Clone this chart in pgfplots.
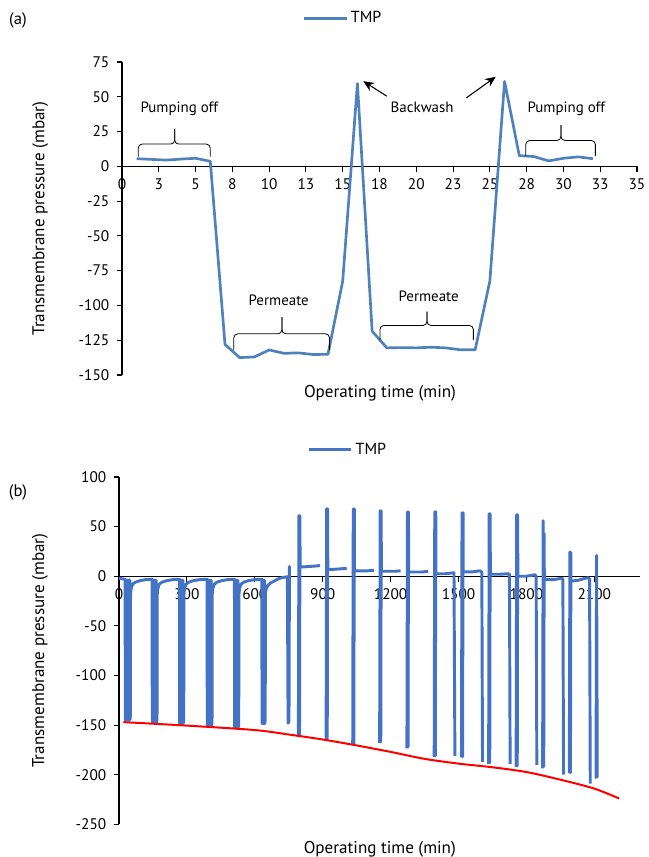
\documentclass[border=0pt]{standalone}
\usepackage{fontspec}
\setmainfont{PT Sans}
\usepackage{pgfplots}
\pgfplotsset{compat=1.18}
\usetikzlibrary{arrows.meta}
\definecolor{tmpA}{HTML}{4F81BD}
\definecolor{tmpB}{HTML}{4472C4}
\tikzset{brk/.style={line width=0.6pt, rounded corners=3pt}}
\begin{document}
\begin{tikzpicture}
\pgfplotsset{
 common/.style={
  scale only axis,
  axis x line=middle, axis y line=left,
  axis line style={-, line width=0.8pt},
  tick align=outside,
  major tick length=4pt,
  tick style={black, line width=0.8pt},
  hide obscured x ticks=false,
  /pgf/number format/assume math mode=true,
  /pgf/number format/1000 sep={},
  tick label style={font=\fontsize{11.5}{13}\selectfont},
  xticklabel style={yshift=-2pt},
  yticklabel style={xshift=-2pt},
  label style={font=\fontsize{12.8}{14}\selectfont},
  legend style={draw=none, fill=none, font=\fontsize{12}{14}\selectfont, legend cell align=left},
  legend image code/.code={\draw[##1] (0pt,0pt) -- (32pt,0pt);},
  clip=false,
 },
}
% ---------------- (a) ----------------
\begin{axis}[common, at={(0,0)}, anchor=south west,
 width=386.25pt, height=234.75pt,
 xmin=0, xmax=35, ymin=-150, ymax=75,
 xtick={0,2.5,...,35},
 xticklabels={0,3,5,8,10,13,15,18,20,23,25,28,30,33,35},
 ytick={-150,-125,...,75},
 xlabel={Operating time (min)}, ylabel={Transmembrane pressure (mbar)},
 xlabel style={at={(axis description cs:0.501,-0.0575)}, anchor=center},
 ylabel style={at={(axis description cs:-0.159,0.5)}, anchor=center},
 legend style={at={(axis description cs:0.43,1.14)}, anchor=center},
]
\addplot[tmpA, line width=2pt, line join=round] coordinates {
(1,5.5)(2,5)(3,4.5)(4,5.2)(5,5.8)(6,3.6)(7,-128)(8,-137.5)(9,-137)(10,-132)(11,-134.4)
(12,-134.1)(13,-135.3)(14,-135.1)(15,-82.5)(16,59.5)(17,-118.5)(18,-130.5)(19,-130.3)
(20,-130.5)(21,-130)(22,-130.5)(23,-131.9)(24,-131.9)(25,-82.5)(26,61)(27,7.7)(28,7)
(29,3.9)(30,5.8)(31,6.8)(32,5.5)};
\addlegendentry{TMP}
% brackets
\draw[brk] (axis cs:1.1,7) |- (axis cs:3.58,16) -- (axis cs:3.58,27);
\draw[brk] (axis cs:6,7) |- (axis cs:3.58,16) -- (axis cs:3.58,27);
\draw[brk] (axis cs:27.44,7.5) |- (axis cs:29.83,18.6) -- (axis cs:29.83,29.7);
\draw[brk] (axis cs:32.17,7.5) |- (axis cs:29.83,18.6) -- (axis cs:29.83,29.7);
\draw[brk] (axis cs:7.6,-132) |- (axis cs:10.87,-120.4) -- (axis cs:10.87,-108.4);
\draw[brk] (axis cs:14.1,-132) |- (axis cs:10.87,-120.4) -- (axis cs:10.87,-108.4);
\draw[brk] (axis cs:17.53,-124.8) |- (axis cs:20.73,-114.4) -- (axis cs:20.73,-104.4);
\draw[brk] (axis cs:23.88,-124.8) |- (axis cs:20.73,-114.4) -- (axis cs:20.73,-104.4);
\node[font=\fontsize{11.2}{13}\selectfont] at (axis cs:3.9,41) {Pumping off};
\node[font=\fontsize{11.2}{13}\selectfont] at (axis cs:30.2,41.7) {Pumping off};
\node[font=\fontsize{11.2}{13}\selectfont] at (axis cs:20.4,42.7) {Backwash};
\node[font=\fontsize{11.2}{13}\selectfont] at (axis cs:10.65,-96.5) {Permeate};
\node[font=\fontsize{11.2}{13}\selectfont] at (axis cs:20.84,-93.6) {Permeate};
\draw[-{Stealth[length=8pt,width=7pt]}, line width=0.8pt] (axis cs:18,50.4) -- (axis cs:16.4,61.2);
\draw[-{Stealth[length=8pt,width=7pt]}, line width=0.8pt] (axis cs:23.4,49.2) -- (axis cs:25.4,64.4);
\end{axis}
% ---------------- (b) ----------------
\begin{axis}[common, at={(-2.25pt,-337pt)}, anchor=south west,
 width=390.45pt, height=260.5pt,
 xmin=0, xmax=2300, ymin=-250, ymax=100,
 xtick={0,300,...,2100},
 ytick={-250,-200,...,100},
 unbounded coords=jump,
 xlabel={Operating time (min)}, ylabel={Transmembrane pressure (mbar)},
 xlabel style={at={(axis description cs:0.501,-0.071)}, anchor=center},
 ylabel style={at={(axis description cs:-0.152,0.5)}, anchor=center},
 legend style={at={(axis description cs:0.44,1.078)}, anchor=center},
]
\addplot[tmpB, line width=2.2pt, line join=round] coordinates {
(0,-2)(12,-2.5)(27,-3)
(28,-145)(31,-46)(34,-145)(36,-4)(37,-145)(39,-4)(40,-145)(42,-4)(43,-145)(45,-4)(46,-145)(48,-4)(49,-144)(50,-141)(51,-18)
(54,-12)(60,-8)(72,-6)(92,-4.5)(115,-3.5)(146,-3)
(147,-147)(150,-54)(153,-147)(155,-4)(156,-147)(158,-4)(159,-147)(161,-4)(162,-147)(164,-4)(165,-147)(167,-146)(168,-143)(169,-18)
(172,-12)(178,-8)(190,-6)(210,-4.5)(235,-3.5)(267,-3)
(268,-148.5)(271,-59)(274,-148.5)(276,-4)(277,-148.5)(279,-4)(280,-148.5)(282,-4)(283,-148.5)(285,-147)(286,-144)(287,-18)
(290,-12)(296,-8)(308,-6)(328,-4.5)(355,-3.5)(389,-3)
(390,-150)(393,-69)(396,-150)(398,-4)(399,-150)(401,-4)(402,-150)(404,-4)(405,-150)(407,-4)(408,-150)(410,-149)(411,-146)(412,-18)
(415,-12)(421,-8)(433,-6)(453,-4.5)(478,-3.5)(510,-3)
(511,-152.5)(514,-76)(517,-152.5)(519,-4)(520,-152.5)(522,-4)(523,-152.5)(525,-4)(526,-152.5)(528,-151)(529,-148)(530,-18)
(533,-12)(539,-8)(551,-6)(571,-4.5)(598,-3.5)(631,-3)
(632,-148.5)(635,-83)(638,-148.5)(640,-4)(641,-148.5)(643,-4)(644,-148.5)(645,-147)(646,-144)(647,-17)
(650,-13)(656,-10)(668,-7)(688,-4.5)(710,-2)(730,-1)(744,-0.5)
(747,-148)(751,-147)(753,9.5)(758,10)(770,nan)
(792.5,-162)(795,61)(797.5,-161)(799.5,61)(800,9.5)(820,9.5)(850,10)(880,10.5)(888,11)(889,nan)
(915,-165)(917.5,68)(920,-164)(922,68)(922.5,7)(950,7)(980,7.5)(1006,8)(1007,nan)
(1032.5,-170)(1035,68)(1037.5,-169)(1039.5,68)(1040,5.5)(1070,5.5)(1100,5.5)(1127,6)(1128,nan)
(1151.5,-168)(1154,66)(1156.5,-167)(1158.5,66)(1159,5)(1190,5)(1220,5)(1244,5.5)(1245,nan)
(1272,-173.5)(1274.5,65)(1277,-172)(1279,65)(1279.5,4.3)(1310,4.3)(1340,4.3)(1366,5)(1367,nan)
(1392.5,-182)(1395,65)(1397.5,-181)(1399.5,65)(1400,2.5)(1440,2.5)(1480,3.5)(1484,-181)(1485,nan)
(1513,-182.5)(1515.5,64)(1518,-182)(1520,64)(1520.5,4.4)(1560,4.4)(1595,5.5)(1603,4)(1606,-187)(1607,nan)
(1633,-189)(1635.5,63)(1638,-188)(1640,63)(1640.5,2)(1680,2)(1720,2.5)(1725,2)(1728,-189)(1729,nan)
(1754.5,-192)(1757,62)(1759.5,-191)(1761.5,62)(1762,0)(1800,0)(1838,1.5)(1843,0)(1846,-190)(1847,nan)
(1871.5,-193.5)(1874,56)(1876.5,-192)(1878.5,43)(1879,-3)(1920,-3.5)(1956,-2)(1961,-3)(1964,-200)(1965,nan)
(1989.5,-198.5)(1992,24.5)(1994.5,-198)(1996.5,24)(1997,-5)(2030,-4)(2060,-2)(2074,-1.5)(2079,-3)(2082,-209)(2083,nan)
(2107.5,-204)(2110,21)(2113,-203)};
\addlegendentry{TMP}
\addplot[red, line width=1.5pt, smooth, forget plot] coordinates {
(19,-147)(300,-150.5)(600,-155)(750,-159.5)(900,-164.5)(1050,-170.5)(1200,-177)(1350,-184)
(1500,-188.8)(1650,-192.5)(1800,-197.3)(1950,-205)(2100,-214)(2210,-224)};
\end{axis}
\node[font=\fontsize{12.5}{14}\selectfont] at (-78pt,266pt) {(a)};
\node[font=\fontsize{12.5}{14}\selectfont] at (-78pt,-87.75pt) {(b)};
\pgfresetboundingbox
\path[use as bounding box] (-91.5pt,-361.5pt) rectangle (395.25pt,281.25pt);
\end{tikzpicture}
\end{document}
